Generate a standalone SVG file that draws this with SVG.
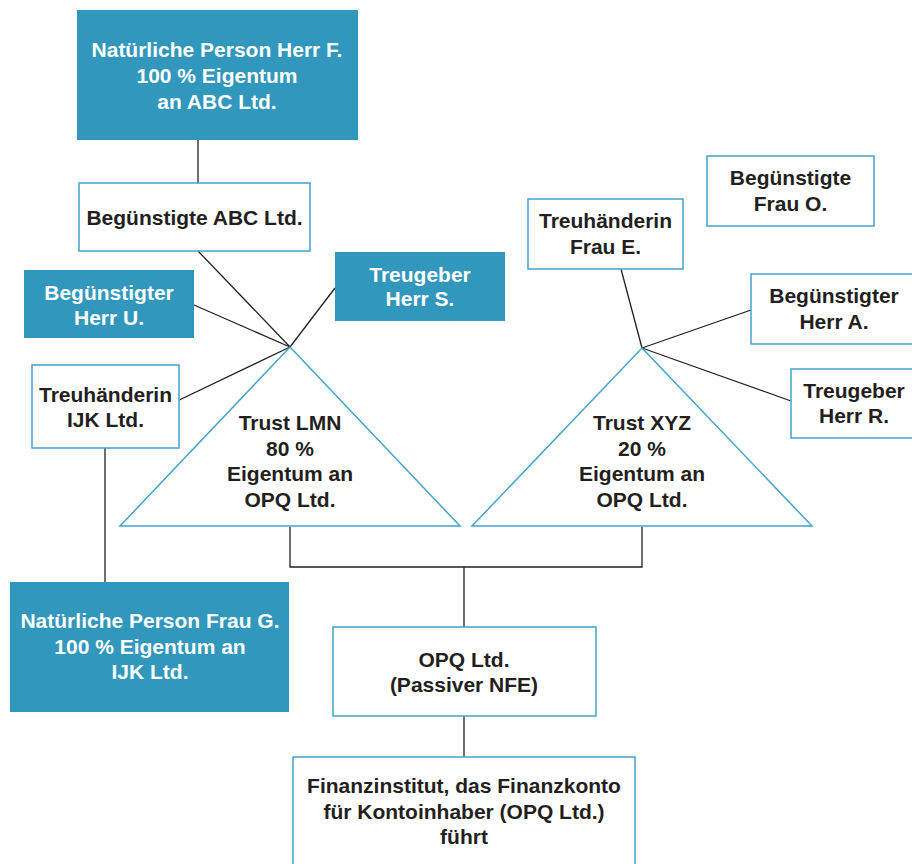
<svg xmlns="http://www.w3.org/2000/svg" width="912" height="864" viewBox="0 0 912 864">
  <style>
    .solid { fill: #3197bc; }
    .outline { fill: #ffffff; stroke: #45a3ca; stroke-width: 1.5; }
    .tri { fill: #ffffff; stroke: #45a3ca; stroke-width: 1.5; stroke-linejoin: miter; }
    text { font-family: "Liberation Sans", Arial, sans-serif; font-weight: bold; font-size: 21px; text-anchor: middle; }
    .dark { fill: #231f20; }
    .light { fill: #ffffff; }
    #connectors line, #connectors polyline { stroke: #231f20; stroke-width: 1.3; fill: none; }
  </style>
  <rect width="912" height="864" fill="#ffffff"/>

  <g id="connectors">
    <line x1="198" y1="140" x2="198" y2="183"/>
    <!-- Trust LMN apex -->
    <line x1="290" y1="347" x2="198" y2="251"/>
    <line x1="290" y1="347" x2="194" y2="305"/>
    <line x1="290" y1="347" x2="335" y2="288"/>
    <line x1="290" y1="347" x2="173" y2="403"/>
    <line x1="105" y1="448" x2="105" y2="582"/>
    <!-- Trust XYZ apex -->
    <line x1="642" y1="348" x2="621" y2="269"/>
    <line x1="642" y1="348" x2="751" y2="310"/>
    <line x1="642" y1="348" x2="791" y2="401"/>
    <!-- trusts to OPQ -->
    <polyline points="290,527 290,567 642,567 642,527"/>
    <line x1="464" y1="567" x2="464" y2="627"/>
    <line x1="464" y1="716" x2="464" y2="757"/>
  </g>

  <g id="herr-f">
    <rect class="solid" x="77" y="10" width="281" height="130"/>
    <text class="light" x="217" y="57">Natürliche Person Herr F.</text>
    <text class="light" x="217" y="83">100 % Eigentum</text>
    <text class="light" x="217" y="109">an ABC Ltd.</text>
  </g>

  <g id="abc-ltd">
    <rect class="outline" x="79" y="183" width="231" height="68"/>
    <text class="dark" x="194.5" y="225">Begünstigte ABC Ltd.</text>
  </g>

  <g id="herr-u">
    <rect class="solid" x="24" y="270" width="170" height="68"/>
    <text class="light" x="109" y="300">Begünstigter</text>
    <text class="light" x="109" y="325">Herr U.</text>
  </g>

  <g id="herr-s">
    <rect class="solid" x="335" y="252" width="170" height="69"/>
    <text class="light" x="420" y="282">Treugeber</text>
    <text class="light" x="420" y="306">Herr S.</text>
  </g>

  <g id="ijk-ltd">
    <rect class="outline" x="32" y="365" width="147" height="83"/>
    <text class="dark" x="105.5" y="402">Treuhänderin</text>
    <text class="dark" x="105.5" y="427">IJK Ltd.</text>
  </g>

  <g id="trust-lmn">
    <polygon class="tri" points="290,347 460,526 120,526"/>
    <text class="dark" x="290" y="430">Trust LMN</text>
    <text class="dark" x="290" y="456">80 %</text>
    <text class="dark" x="290" y="481">Eigentum an</text>
    <text class="dark" x="290" y="507">OPQ Ltd.</text>
  </g>

  <g id="trust-xyz">
    <polygon class="tri" points="642,348 812,526 472,526"/>
    <text class="dark" x="642" y="430">Trust XYZ</text>
    <text class="dark" x="642" y="456">20 %</text>
    <text class="dark" x="642" y="481">Eigentum an</text>
    <text class="dark" x="642" y="507">OPQ Ltd.</text>
  </g>

  <g id="frau-e">
    <rect class="outline" x="528" y="199" width="155" height="70"/>
    <text class="dark" x="605.5" y="228">Treuhänderin</text>
    <text class="dark" x="605.5" y="254">Frau E.</text>
  </g>

  <g id="frau-o">
    <rect class="outline" x="707" y="156" width="167" height="70"/>
    <text class="dark" x="790.5" y="185">Begünstigte</text>
    <text class="dark" x="790.5" y="211">Frau O.</text>
  </g>

  <g id="herr-a">
    <rect class="outline" x="751" y="274" width="170" height="70"/>
    <text class="dark" x="834" y="303">Begünstigter</text>
    <text class="dark" x="834" y="329">Herr A.</text>
  </g>

  <g id="herr-r">
    <rect class="outline" x="791" y="369" width="130" height="69"/>
    <text class="dark" x="854" y="398">Treugeber</text>
    <text class="dark" x="854" y="423">Herr R.</text>
  </g>

  <g id="frau-g">
    <rect class="solid" x="10" y="582" width="279" height="130"/>
    <text class="light" x="150" y="628">Natürliche Person Frau G.</text>
    <text class="light" x="150" y="654">100 % Eigentum an</text>
    <text class="light" x="150" y="679">IJK Ltd.</text>
  </g>

  <g id="opq-ltd">
    <rect class="outline" x="333" y="627" width="263" height="89"/>
    <text class="dark" x="464" y="667">OPQ Ltd.</text>
    <text class="dark" x="464" y="692">(Passiver NFE)</text>
  </g>

  <g id="finanzinstitut">
    <rect class="outline" x="293" y="757" width="342" height="120"/>
    <text class="dark" x="464" y="793">Finanzinstitut, das Finanzkonto</text>
    <text class="dark" x="464" y="819">für Kontoinhaber (OPQ Ltd.)</text>
    <text class="dark" x="464" y="844">führt</text>
  </g>
</svg>
